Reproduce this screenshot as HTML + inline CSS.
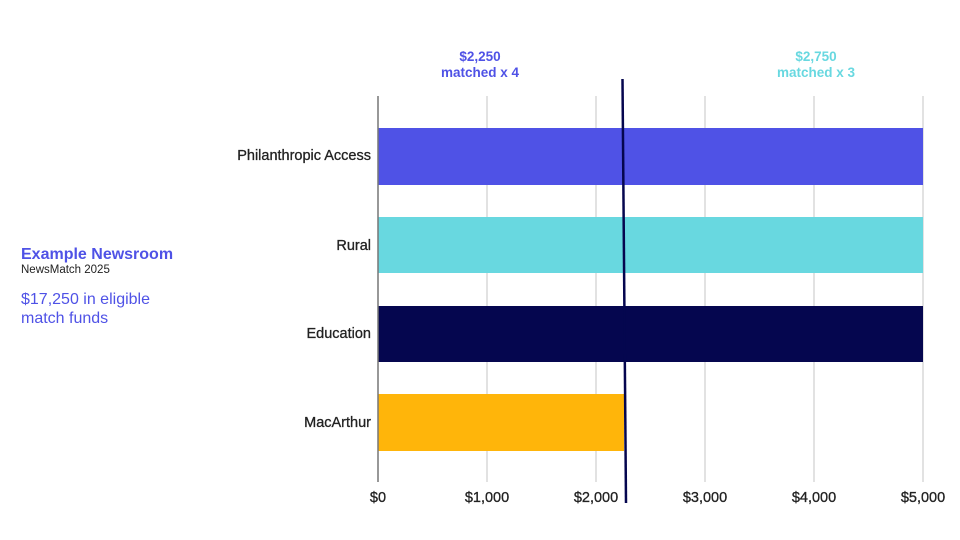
<!DOCTYPE html>
<html><head><style>
body{margin:0;background:#fff;}
svg{display:block;}
</style></head><body>
<svg width="960" height="540" xmlns="http://www.w3.org/2000/svg" font-family="Liberation Sans, sans-serif">
<g stroke="#d9d9d9" stroke-width="1.5">
<line x1="487" y1="96" x2="487" y2="482"/>
<line x1="596" y1="96" x2="596" y2="482"/>
<line x1="705" y1="96" x2="705" y2="482"/>
<line x1="814" y1="96" x2="814" y2="482"/>
<line x1="923" y1="96" x2="923" y2="482"/>
</g>
<rect x="378" y="128" width="545" height="57" fill="#4f52e6"/>
<rect x="378" y="217" width="545" height="56" fill="#68d8e0"/>
<rect x="378" y="306" width="545" height="56" fill="#05064f"/>
<rect x="378" y="394" width="246" height="57" fill="#ffb50a"/>
<line x1="378" y1="96" x2="378" y2="482" stroke="#777" stroke-width="1.5"/>
<line x1="622.5" y1="79" x2="626" y2="503" stroke="#05064f" stroke-width="2.5"/>
<g font-size="14.5" fill="#222" text-anchor="end" stroke="#222" stroke-width="0.3">
<text x="371" y="160">Philanthropic Access</text>
<text x="371" y="250">Rural</text>
<text x="371" y="338">Education</text>
<text x="371" y="427">MacArthur</text>
</g>
<g font-size="14.5" fill="#222" text-anchor="middle" stroke="#222" stroke-width="0.3">
<text x="378" y="502">$0</text>
<text x="487" y="502">$1,000</text>
<text x="596" y="502">$2,000</text>
<text x="705" y="502">$3,000</text>
<text x="814" y="502">$4,000</text>
<text x="923" y="502">$5,000</text>
</g>
<g font-size="13.5" font-weight="bold" text-anchor="middle">
<text x="480" y="61" fill="#4f52e6">$2,250</text>
<text x="480" y="77" fill="#4f52e6">matched x 4</text>
<text x="816" y="61" fill="#68d8e0">$2,750</text>
<text x="816" y="77" fill="#68d8e0">matched x 3</text>
</g>
<text x="21" y="259" font-size="16" font-weight="bold" fill="#4f52e6">Example Newsroom</text>
<text x="21" y="273" font-size="11.5" fill="#222">NewsMatch 2025</text>
<text x="21" y="304" font-size="16" fill="#4f52e6">$17,250 in eligible</text>
<text x="21" y="323" font-size="16" fill="#4f52e6">match funds</text>
</svg>
</body></html>
